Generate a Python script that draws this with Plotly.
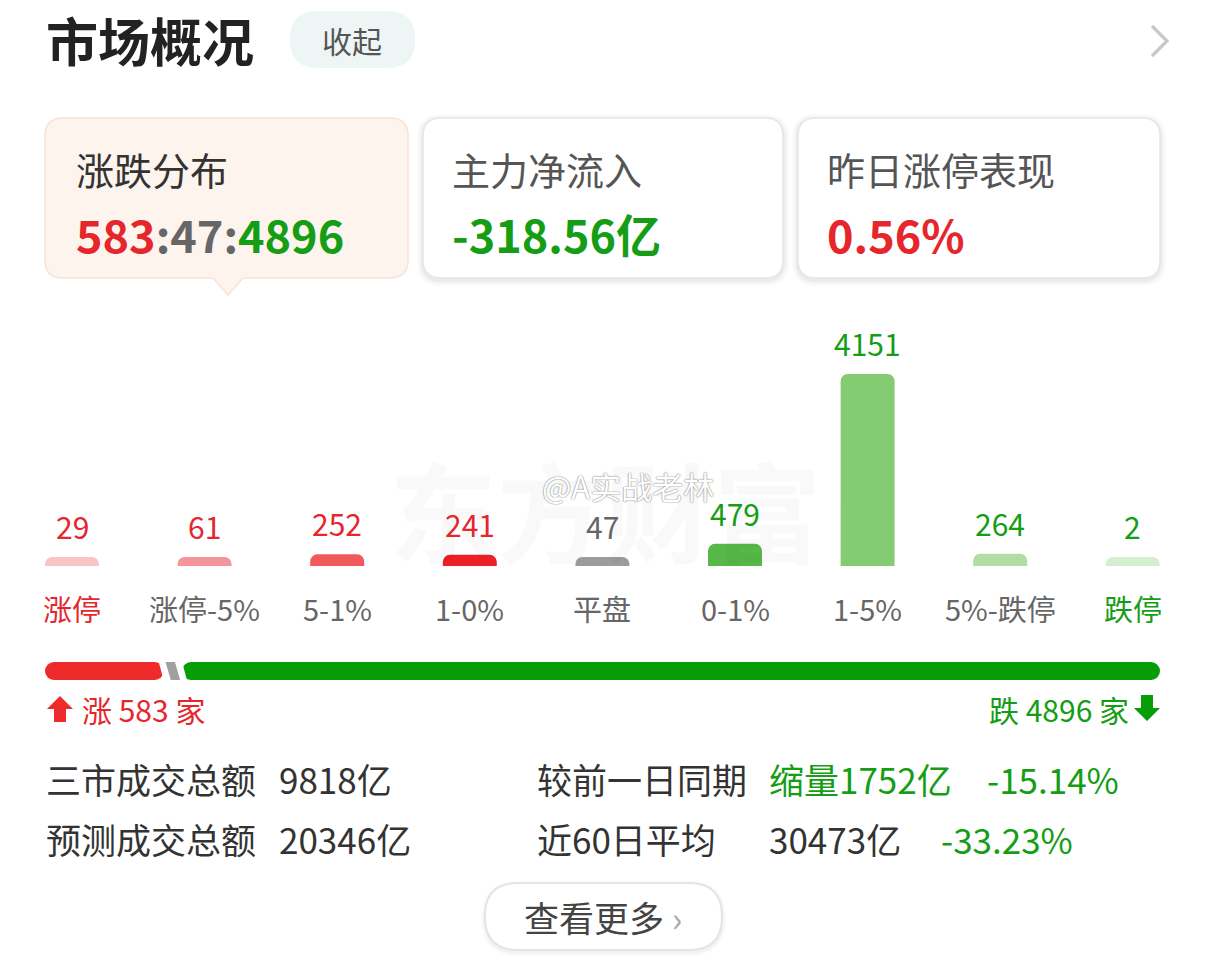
import plotly.graph_objects as go

W, H = 1206, 963

# ---------------- data ----------------
categories = ["涨停", "涨停-5%", "5-1%", "1-0%", "平盘", "0-1%", "1-5%", "5%-跌停", "跌停"]
counts = [29, 61, 252, 241, 47, 479, 4151, 264, 2]
bar_colors = ["#f8c4c7", "#f3959a", "#f05a5c", "#ec2025", "#9c9c9c",
              "#56b947", "#84cc72", "#afdda3", "#d3efcd"]

up_count, flat_count, down_count = 583, 47, 4896
main_flow = "-318.56亿"
zt_perf = "0.56%"
card_titles = ["涨跌分布", "主力净流入", "昨日涨停表现"]

stat_labels_left = ["三市成交总额", "预测成交总额"]
stat_values_left = ["9818亿", "20346亿"]
stat_labels_right = ["较前一日同期", "近60日平均"]
stat_values_right = ["缩量1752亿", "30473亿"]
stat_pcts_right = ["-15.14%", "-33.23%"]

RED = "#e5272d"
GREEN = "#159d15"
GRAY = "#666666"
DARK = "#333333"
FONT = "Noto Sans CJK SC"

value_colors = [RED, RED, RED, RED, GRAY, GREEN, GREEN, GREEN, GREEN]
label_colors = [RED] + [GRAY] * 7 + [GREEN]


def px(x):
    return x / W


def py(y):
    return 1 - y / H


def poly_path(points, close=True):
    s = "M " + " L ".join(f"{px(a):.5f},{py(b):.5f}" for a, b in points)
    return s + (" Z" if close else "")


def rrect_path(x0, y0, x1, y1, r, notch=None):
    pts = []
    pts.append(("M", [(x0 + r, y0)]))
    pts.append(("L", [(x1 - r, y0)]))
    pts.append(("Q", [(x1, y0), (x1, y0 + r)]))
    pts.append(("L", [(x1, y1 - r)]))
    pts.append(("Q", [(x1, y1), (x1 - r, y1)]))
    if notch:
        cx, nw, nh = notch
        pts.append(("L", [(cx + nw, y1)]))
        pts.append(("L", [(cx, y1 + nh)]))
        pts.append(("L", [(cx - nw, y1)]))
    pts.append(("L", [(x0 + r, y1)]))
    pts.append(("Q", [(x0, y1), (x0, y1 - r)]))
    pts.append(("L", [(x0, y0 + r)]))
    pts.append(("Q", [(x0, y0), (x0 + r, y0)]))
    s = ""
    for cmd, ps in pts:
        s += cmd + " " + " ".join(f"{px(a):.5f},{py(b):.5f}" for a, b in ps) + " "
    return s + "Z"


fig = go.Figure()

# ---------------- main distribution bars ----------------
max_c = max(counts)
top_px = 192.0          # pixel height of the tallest bar
min_px = 9.0            # minimum drawn height
base_y, top_y = 566, 330
disp = [max(c, max_c * min_px / top_px) for c in counts]
y_top = max_c * (base_y - top_y) / top_px

fig.add_trace(go.Bar(
    x=categories, y=disp,
    marker=dict(color=bar_colors, cornerradius=7, line=dict(width=0)),
    hoverinfo="skip", xaxis="x", yaxis="y", showlegend=False,
))

# ---------------- up / flat / down progress bar ----------------
total = up_count + flat_count + down_count
bar_x0, bar_x1 = 45, 1160
gap_px, slant_px = 7, 2.6
upp = total / ((bar_x1 - bar_x0) - 2 * gap_px)
g = gap_px * upp
s = slant_px * upp
E1 = up_count
G0 = E1 + g
G1 = G0 + flat_count
E2 = G1 + g
END = total + 2 * g

fig.add_trace(go.Bar(x=[-(E1 + s)], base=[E1 + s], y=[0], orientation="h", width=1,
                     marker=dict(color="#ee2a2a", cornerradius=9, line=dict(width=0)),
                     xaxis="x2", yaxis="y2", hoverinfo="skip", showlegend=False))
fig.add_trace(go.Bar(x=[END - (E2 - s)], base=[E2 - s], y=[0], orientation="h", width=1,
                     marker=dict(color="#069d06", cornerradius=9, line=dict(width=0)),
                     xaxis="x2", yaxis="y2", hoverinfo="skip", showlegend=False))


def sheared(a, b, color, ext=0.0):
    return go.Scatter(
        x=[a - s, b - s, b + s, a + s, a - s],
        y=[0.5 + ext, 0.5 + ext, -0.5 - ext, -0.5 - ext, 0.5 + ext],
        fill="toself", fillcolor=color, mode="lines", line=dict(width=0, color=color),
        xaxis="x2", yaxis="y2", hoverinfo="skip", showlegend=False)


fig.add_trace(sheared(E1, G0, "#ffffff", 0.05))
fig.add_trace(sheared(G1, E2, "#ffffff", 0.05))
fig.add_trace(sheared(G0, G1, "#a0a0a0"))

# ---------------- shapes (cards, buttons, icons) ----------------
shapes = []
# 收起 pill
shapes.append(dict(type="path", xref="paper", yref="paper",
                   path=rrect_path(290, 11, 415, 68, 28),
                   fillcolor="#eef5f5", line=dict(width=0), layer="below"))
# card shadows
for (x0, x1) in [(423, 783), (798, 1160)]:
    for d, a in [(6, 0.018), (4, 0.025), (2, 0.035)]:
        shapes.append(dict(type="path", xref="paper", yref="paper",
                           path=rrect_path(x0 - d, 118 - d + 2, x1 + d, 278 + d + 2, 18 + d),
                           fillcolor=f"rgba(0,0,0,{a})", line=dict(width=0), layer="below"))
    shapes.append(dict(type="path", xref="paper", yref="paper",
                       path=rrect_path(x0, 118, x1, 278, 18),
                       fillcolor="#ffffff", line=dict(width=1.5, color="#e6e6e6"), layer="below"))
# selected card with notch
shapes.append(dict(type="path", xref="paper", yref="paper",
                   path=rrect_path(45, 118, 408, 278, 18, notch=(228, 15, 17)),
                   fillcolor="#fdf4ee", line=dict(width=1.5, color="#f8e2d8"), layer="below"))
# 查看更多 button
for d, a in [(4, 0.02), (2, 0.03)]:
    shapes.append(dict(type="path", xref="paper", yref="paper",
                       path=rrect_path(485 - d, 883 - d + 2, 722 + d, 950 + d + 2, 33 + d),
                       fillcolor=f"rgba(0,0,0,{a})", line=dict(width=0), layer="below"))
shapes.append(dict(type="path", xref="paper", yref="paper",
                   path=rrect_path(485, 883, 722, 950, 33),
                   fillcolor="#ffffff", line=dict(width=2, color="#e4e4e4"), layer="below"))
# top-right chevron
shapes.append(dict(type="path", xref="paper", yref="paper",
                   path=poly_path([(1152, 26), (1167, 41), (1152, 56)], close=False),
                   line=dict(width=3.2, color="#c8c8c8")))
# up arrow (red) and down arrow (green) icons
shapes.append(dict(type="path", xref="paper", yref="paper",
                   path=poly_path([(60, 696), (73, 709), (66, 709), (66, 722),
                                   (54, 722), (54, 709), (47, 709)]),
                   fillcolor="#ee2a2a", line=dict(width=0)))
shapes.append(dict(type="path", xref="paper", yref="paper",
                   path=poly_path([(1147, 721), (1160, 708), (1153, 708), (1153, 695),
                                   (1141, 695), (1141, 708), (1134, 708)]),
                   fillcolor="#069d06", line=dict(width=0)))

# ---------------- annotations ----------------
ann = []


def txt(x, y, text, size, color, anchor="left", bold=False, family=FONT, **kw):
    d = dict(x=px(x), y=py(y), xref="paper", yref="paper", text=(f"<b>{text}</b>" if bold else text),
             showarrow=False, xanchor=anchor, yanchor="middle",
             font=dict(size=size, color=color, family=family))
    d.update(kw)
    ann.append(d)


# watermark
txt(605, 508, "东方财富", 108, "rgba(0,0,0,0.025)", anchor="center", bold=True)

txt(44, 40, "市场概况", 52, "#222222", bold=True)
txt(352, 40, "收起", 30, "#555555", anchor="center")

txt(74, 168, card_titles[0], 38, DARK)
txt(450, 168, card_titles[1], 38, "#555555")
txt(825, 168, card_titles[2], 38, "#555555")

ratio = (f"<span style='color:{RED}'>{up_count}</span>"
         f"<span style='color:#666666'>:{flat_count}:</span>"
         f"<span style='color:{GREEN}'>{down_count}</span>")
txt(74, 233, ratio, 45, RED, bold=True)
txt(450, 233, main_flow, 45, GREEN, bold=True)
txt(825, 233, zt_perf, 45, RED, bold=True)

# bar value labels and category labels (through axis scale)
for cat, v, d, vc, lc in zip(categories, counts, disp, value_colors, label_colors):
    ann.append(dict(x=cat, y=d, xref="x", yref="y", text=str(v), showarrow=False,
                    xanchor="center", yanchor="bottom", yshift=7,
                    font=dict(size=30, color=vc, family=FONT)))
    ann.append(dict(x=cat, y=0, xref="x", yref="y", text=cat, showarrow=False,
                    xanchor="center", yanchor="middle", yshift=-42,
                    font=dict(size=29, color=lc, family=FONT)))

# weibo watermark
ann.append(dict(x=px(540), y=py(485), xref="paper", yref="paper", text="@A实战老林",
                showarrow=False, xanchor="left", yanchor="middle",
                font=dict(size=31, color="#ffffff", family=FONT,
                          shadow="0px 0px 1.5px #777, 0px 0px 1px #999")))

# up/down counts
txt(80, 709, f"涨 {up_count} 家", 30, RED)
txt(1131, 709, f"跌 {down_count} 家", 30, GREEN, anchor="right")

# stats rows
for i, yy in enumerate([778, 838]):
    txt(44, yy, stat_labels_left[i], 35, DARK)
    txt(277, yy, stat_values_left[i], 35, DARK)
    txt(535, yy, stat_labels_right[i], 35, DARK)
txt(767, 778, stat_values_right[0], 35, GREEN)
txt(985, 778, stat_pcts_right[0], 35, GREEN)
txt(767, 838, stat_values_right[1], 35, DARK)
txt(939, 838, stat_pcts_right[1], 35, GREEN)

txt(603, 916, "查看更多 <span style='color:#aaaaaa'>›</span>", 35, "#444444", anchor="center")

fig.update_layout(
    width=W, height=H, autosize=False,
    margin=dict(l=0, r=0, t=0, b=0, pad=0),
    paper_bgcolor="#ffffff", plot_bgcolor="rgba(0,0,0,0)",
    barmode="overlay", bargap=0.593,
    showlegend=False,
    xaxis=dict(domain=[px(5.7), px(1199.1)], type="category", showgrid=False, zeroline=False,
               showline=False, showticklabels=False, ticks="", fixedrange=True),
    yaxis=dict(domain=[py(base_y), py(top_y)], range=[0, y_top], visible=False, fixedrange=True),
    xaxis2=dict(domain=[px(bar_x0), px(bar_x1)], range=[0, END], visible=False, fixedrange=True,
                anchor="y2"),
    yaxis2=dict(domain=[py(680), py(662)], range=[-0.5, 0.5], visible=False, fixedrange=True,
                anchor="x2"),
    shapes=shapes,
    annotations=ann,
)

fig.write_html("out.html")
